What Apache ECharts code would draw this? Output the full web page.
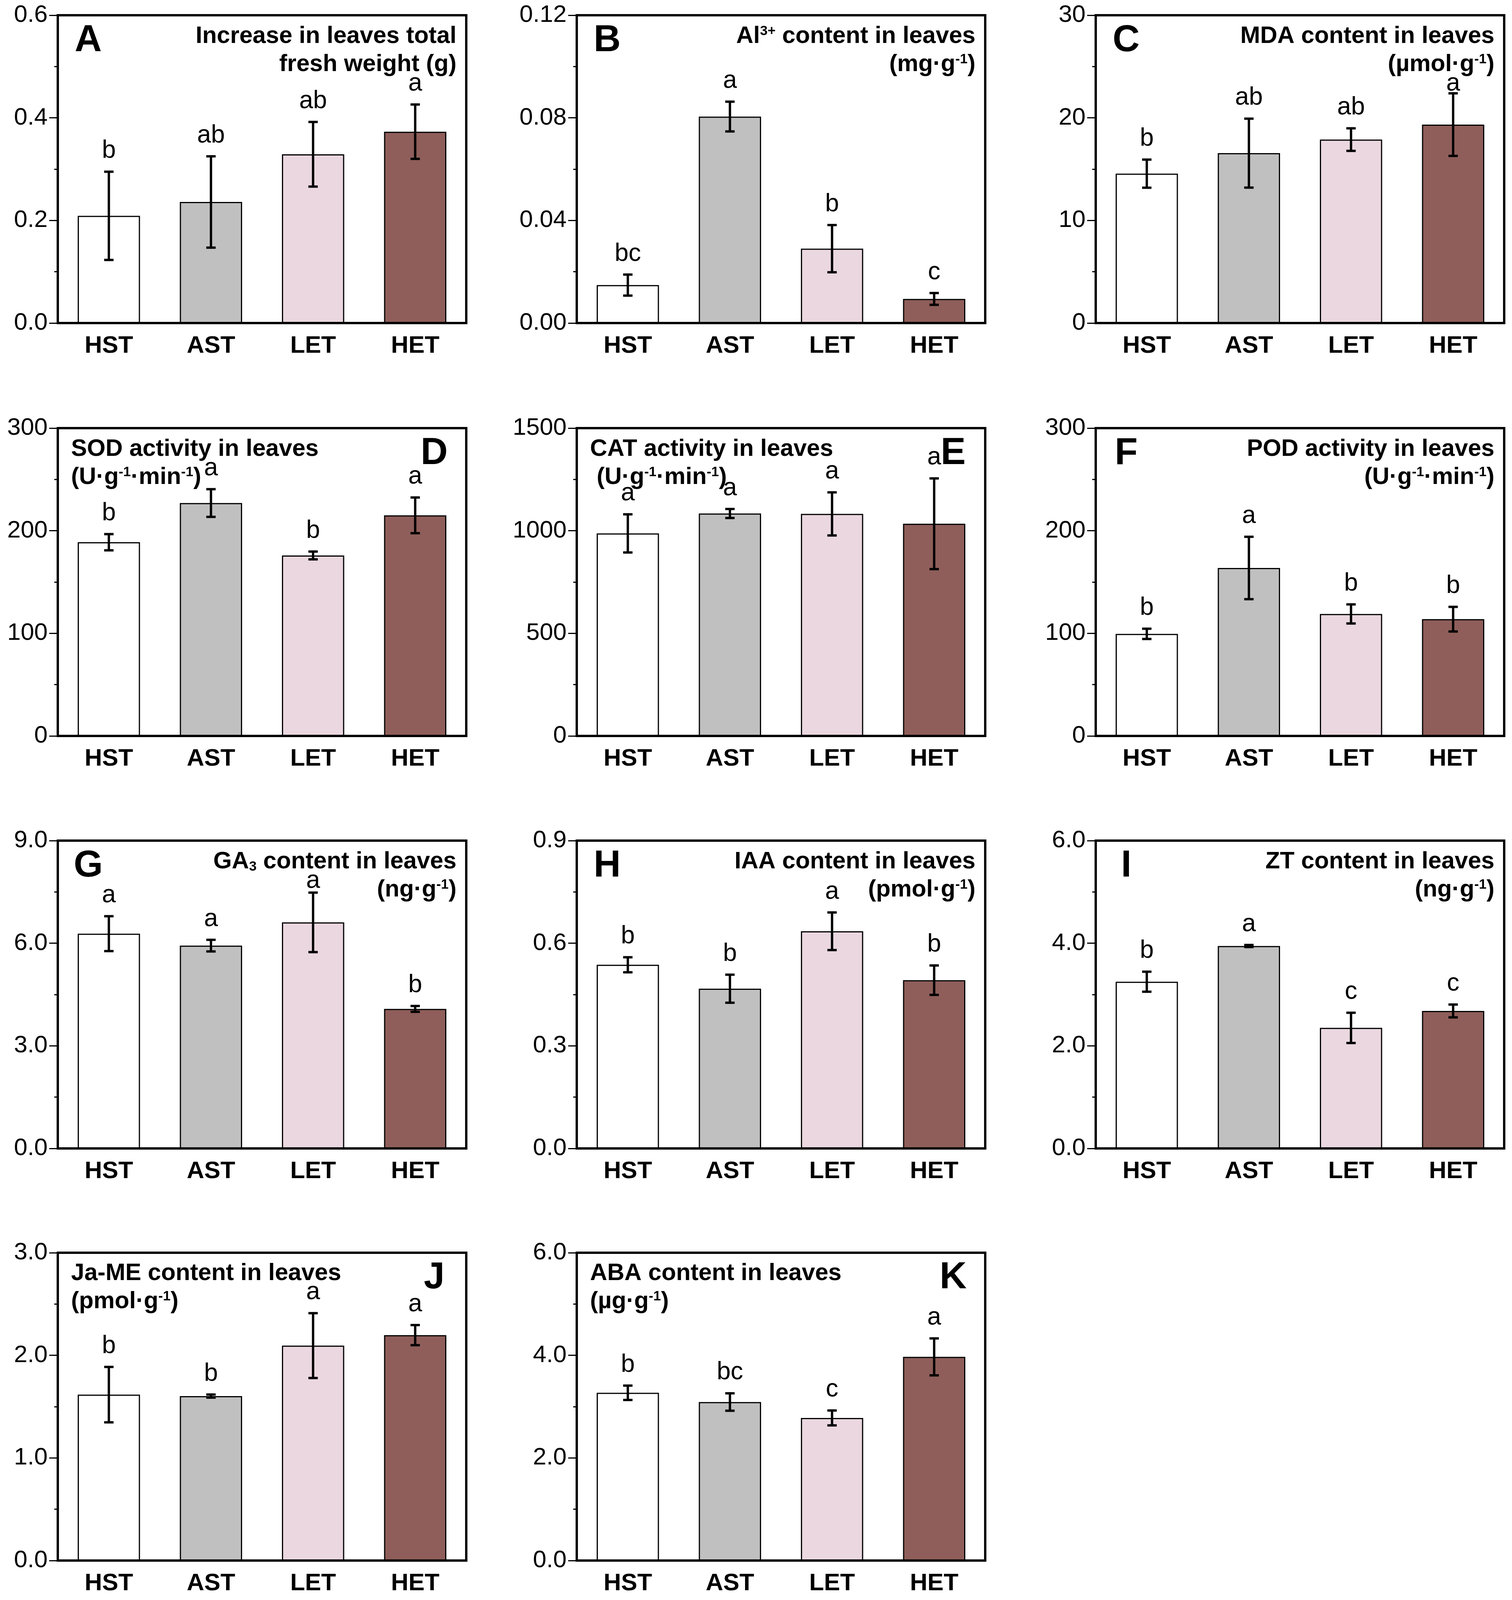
<!DOCTYPE html>
<html>
<head>
<meta charset="utf-8">
<title>Leaf traits</title>
<script src="https://cdn.jsdelivr.net/npm/echarts@6/dist/echarts.min.js"></script>
<style>
  html, body { margin: 0; padding: 0; background: #fff; overflow: hidden; }
  #chart { width: 100vw; height: 100vh; }
</style>
</head>
<body>
<div id="chart"></div>
<script>
// ---------------- data ----------------
var categories = ['HST', 'AST', 'LET', 'HET'];
var barColors = ['#ffffff', '#c0c0c0', '#ead7df', '#8f5e5a'];

// A  leaves fresh weight increase (g)
var fwMean = [0.209, 0.236, 0.329, 0.373];
var fwErr  = [0.086, 0.089, 0.063, 0.053];
var fwSig  = ['b', 'ab', 'ab', 'a'];
// B  Al3+ (mg/g)
var alMean = [0.0148, 0.0805, 0.0290, 0.0094];
var alErr  = [0.0041, 0.0058, 0.0092, 0.0023];
var alSig  = ['bc', 'a', 'b', 'c'];
// C  MDA
var mdaMean = [14.56, 16.56, 17.88, 19.34];
var mdaErr  = [1.37, 3.36, 1.10, 3.05];
var mdaSig  = ['b', 'ab', 'ab', 'a'];
// D  SOD
var sodMean = [188.8, 227.0, 175.9, 215.0];
var sodErr  = [7.9, 13.5, 3.8, 17.4];
var sodSig  = ['b', 'a', 'b', 'a'];
// E  CAT
var catMean = [987, 1084, 1082, 1034];
var catErr  = [93, 22, 105, 221];
var catSig  = ['a', 'a', 'a', 'a'];
// F  POD
var podMean = [99.5, 163.7, 118.9, 113.8];
var podErr  = [5.0, 30.4, 9.3, 12.0];
var podSig  = ['b', 'a', 'b', 'b'];
// G  GA3
var gaMean = [6.28, 5.93, 6.61, 4.08];
var gaErr  = [0.51, 0.17, 0.87, 0.085];
var gaSig  = ['a', 'a', 'a', 'b'];
// H  IAA
var iaaMean = [0.537, 0.467, 0.635, 0.492];
var iaaErr  = [0.022, 0.041, 0.055, 0.043];
var iaaSig  = ['b', 'b', 'a', 'b'];
// I  ZT
var ztMean = [3.25, 3.946, 2.35, 2.68];
var ztErr  = [0.195, 0.02, 0.295, 0.125];
var ztSig  = ['b', 'a', 'c', 'c'];
// J  Ja-ME
var jaMean = [1.617, 1.603, 2.095, 2.197];
var jaErr  = [0.27, 0.015, 0.316, 0.098];
var jaSig  = ['b', 'b', 'a', 'a'];
// K  ABA
var abaMean = [3.27, 3.09, 2.78, 3.97];
var abaErr  = [0.14, 0.17, 0.145, 0.36];
var abaSig  = ['b', 'bc', 'c', 'a'];

// y axes
var yMax      = [0.6, 0.12, 30, 300, 1500, 300, 9.0, 0.9, 6.0, 3.0, 6.0];
var yStep     = [0.2, 0.04, 10, 100, 500, 100, 3.0, 0.3, 2.0, 1.0, 2.0];
var yDecimals = [1, 2, 0, 0, 0, 0, 1, 1, 1, 1, 1];

var panelLetters = ['A', 'B', 'C', 'D', 'E', 'F', 'G', 'H', 'I', 'J', 'K'];
var panelTitles = [
  ['Increase in leaves total', 'fresh weight (g)'],
  ['Al{sup|3+} content in leaves', '(mg·g{sup|-1})'],
  ['MDA content in leaves', '(µmol·g{sup|-1})'],
  ['SOD activity in leaves', '(U·g{sup|-1}·min{sup|-1})'],
  ['CAT activity in leaves', ' (U·g{sup|-1}·min{sup|-1})'],
  ['POD activity in leaves', '(U·g{sup|-1}·min{sup|-1})'],
  ['GA{sub|3} content in leaves', '(ng·g{sup|-1})'],
  ['IAA content in leaves', '(pmol·g{sup|-1})'],
  ['ZT content in leaves', '(ng·g{sup|-1})'],
  ['Ja-ME content in leaves', '(pmol·g{sup|-1})'],
  ['ABA content in leaves', '(µg·g{sup|-1})']
];
// 'R' = title top-right, letter top-left ; 'L' = title top-left, letter top-right
var titleSide = ['R', 'R', 'R', 'L', 'L', 'R', 'R', 'R', 'R', 'L', 'L'];

var means = [fwMean, alMean, mdaMean, sodMean, catMean, podMean, gaMean, iaaMean, ztMean, jaMean, abaMean];
var errs  = [fwErr, alErr, mdaErr, sodErr, catErr, podErr, gaErr, iaaErr, ztErr, jaErr, abaErr];
var sigs  = [fwSig, alSig, mdaSig, sodSig, catSig, podSig, gaSig, iaaSig, ztSig, jaSig, abaSig];

// ---------------- layout ----------------
// positions measured on a 3872 x 4371 frame, scaled to the real viewport
var FONT = '"Liberation Sans", Arial, Helvetica, sans-serif';
var el = document.getElementById('chart');
var sx = el.clientWidth / 3872, sy = el.clientHeight / 4371;
var sf = sx;
function X(v) { return Math.round(v * sx); }
function Y(v) { return Math.round(v * sy); }
function F(v) { return Math.round(v * sf); }

var colLeft = [148, 1477, 2806];
var rowTop = [42, 1170, 2297, 3422];
var plotW = 1046, plotH = 841;
// letters squeezed under the panel titles sit closer to their caps
var sigNudge = { '2-3': 30, '6-2': 24 };

var myChart = echarts.init(el, null, {renderer: 'canvas'});

var grids = [], xAxes = [], yAxes = [], series = [], texts = [];

var richStyle = {
  sup: { fontSize: F(35), fontWeight: 'bold', fontFamily: FONT, verticalAlign: 'top', fill: '#000' },
  sub: { fontSize: F(35), fontWeight: 'bold', fontFamily: FONT, verticalAlign: 'bottom', fill: '#000' }
};

means.forEach(function (m, i) {
  var left = colLeft[i % 3];
  var top = rowTop[Math.floor(i / 3)];

  grids.push({
    left: X(left), top: Y(top), width: X(plotW), height: Y(plotH),
    show: true, borderColor: '#000', borderWidth: F(6), backgroundColor: 'transparent'
  });

  xAxes.push({
    type: 'category', gridIndex: i, data: categories,
    axisLine: { lineStyle: { color: '#000', width: F(6) } },
    axisTick: { alignWithLabel: true, length: F(14), lineStyle: { color: '#000', width: F(3) } },
    axisLabel: { fontSize: F(62), fontWeight: 'bold', color: '#000', fontFamily: FONT, margin: Y(30) }
  });

  (function (dec) {
    yAxes.push({
      type: 'value', gridIndex: i, min: 0, max: yMax[i], interval: yStep[i],
      splitLine: { show: false },
      axisLine: { show: true, lineStyle: { color: '#000', width: F(6) } },
      axisTick: { show: true, length: F(22), lineStyle: { color: '#000', width: F(3) } },
      minorTick: { show: true, splitNumber: 2, length: F(9), lineStyle: { color: '#000', width: F(3) } },
      axisLabel: {
        fontSize: F(62), color: '#000', fontFamily: FONT, margin: F(26),
        formatter: function (v) { return v.toFixed(dec); }
      }
    });
  })(yDecimals[i]);

  series.push({
    type: 'bar', xAxisIndex: i, yAxisIndex: i, barWidth: '61%', silent: true,
    data: m.map(function (v, k) {
      return { value: v, itemStyle: { color: barColors[k], borderColor: '#000', borderWidth: F(3) } };
    })
  });

  (function (sig, pi) {
    series.push({
      type: 'custom', xAxisIndex: i, yAxisIndex: i, z: 5, silent: true,
      encode: { x: 0, y: [1, 2] },
      data: m.map(function (v, k) { return [k, v - errs[i][k], v + errs[i][k]]; }),
      renderItem: function (params, api) {
        var lo = api.coord([api.value(0), api.value(1)]);
        var hi = api.coord([api.value(0), api.value(2)]);
        var cap = F(12);
        var ls = { stroke: '#000', lineWidth: F(6) };
        var nudge = sigNudge[pi + '-' + params.dataIndex] || 0;
        return {
          type: 'group',
          children: [
            { type: 'line', shape: { x1: hi[0], y1: hi[1], x2: lo[0], y2: lo[1] }, style: ls },
            { type: 'line', shape: { x1: hi[0] - cap, y1: hi[1], x2: hi[0] + cap, y2: hi[1] }, style: ls },
            { type: 'line', shape: { x1: lo[0] - cap, y1: lo[1], x2: lo[0] + cap, y2: lo[1] }, style: ls },
            {
              type: 'text',
              style: {
                text: sig[params.dataIndex], x: hi[0], y: hi[1] - Y(22 - nudge),
                align: 'center', verticalAlign: 'bottom',
                font: F(64) + 'px ' + FONT, fill: '#000'
              }
            }
          ]
        };
      }
    });
  })(sigs[i], i);

  // panel title lines and letter
  var lines = panelTitles[i];
  var side = titleSide[i];
  lines.forEach(function (ln, j) {
    texts.push({
      type: 'text', z: 10, silent: true,
      style: {
        text: ln, rich: richStyle,
        x: X(side === 'R' ? left + plotW - 25 : left + 34),
        y: Y(top + 57 + j * 77),
        align: side === 'R' ? 'right' : 'left', verticalAlign: 'middle',
        font: 'bold ' + F(61) + 'px ' + FONT, fill: '#000'
      }
    });
  });
  texts.push({
    type: 'text', z: 10, silent: true,
    style: {
      text: panelLetters[i],
      x: X(side === 'R' ? left + 78 : left + plotW - 82),
      y: Y(top + 70),
      align: 'center', verticalAlign: 'middle',
      font: 'bold ' + F(96) + 'px ' + FONT, fill: '#000'
    }
  });
});

var option = {
  animation: false,
  backgroundColor: '#fff',
  grid: grids,
  xAxis: xAxes,
  yAxis: yAxes,
  series: series,
  graphic: { elements: texts }
};

myChart.setOption(option);
</script>
</body>
</html>
